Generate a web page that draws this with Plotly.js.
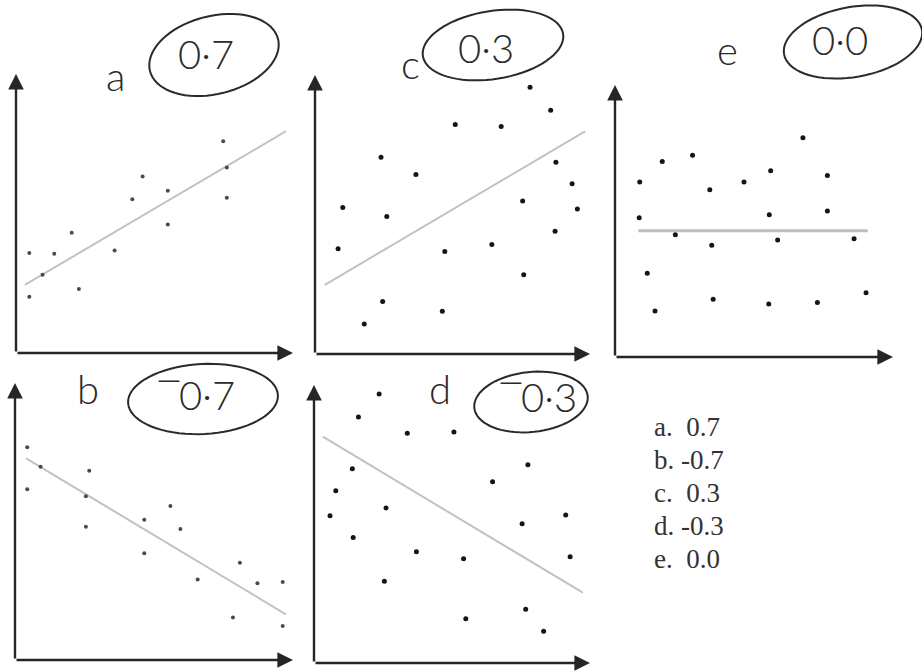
<!DOCTYPE html>
<html>
<head>
<meta charset="utf-8">
<script src="https://cdn.plot.ly/plotly-3.0.1.min.js"></script>
<style>
  html, body { margin: 0; padding: 0; background: #ffffff; }
  #chart { width: 922px; height: 671px; }
</style>
</head>
<body>
<div id="chart"></div>
<script>
// Correlation worksheet: five scatter plots with fitted lines and the r value for each.

const panelLetters = ['a', 'c', 'e', 'b', 'd'];
const panelR = [0.7, 0.3, 0.0, -0.7, -0.3];

// a : r = 0.7
const aX = [0.48, 0.48, 0.96, 1.38, 2.01, 2.27, 3.56, 4.20, 4.57, 5.48, 5.48, 7.48, 7.61, 7.61];
const aY = [3.66, 2.06, 2.86, 3.63, 4.40, 2.34, 3.75, 5.62, 6.45, 5.93, 4.70, 7.74, 6.78, 5.68];
const aLineX = [0.32, 9.75];
const aLineY = [2.49, 8.11];

// c : r = 0.3
const cX = [7.82, 8.57, 5.10, 6.77, 2.40, 8.76, 3.67, 9.35, 1.01, 7.55, 9.54, 2.61, 8.73, 0.84, 4.72, 6.43, 7.59, 2.46, 4.63, 1.79];
const cY = [9.75, 8.91, 8.39, 8.32, 7.19, 7.01, 6.56, 6.22, 5.36, 5.59, 5.30, 5.03, 4.49, 3.85, 3.75, 4.00, 2.90, 1.92, 1.56, 1.10];
const cLineX = [0.36, 9.82];
const cLineY = [2.53, 8.14];

// e : r = 0.0
const eX = [6.76, 1.70, 2.79, 0.89, 5.60, 3.41, 4.64, 7.64, 0.87, 5.55, 7.64, 2.17, 3.48, 5.85, 8.60, 1.16, 1.44, 3.53, 5.53, 7.28, 9.03];
const eY = [8.06, 7.19, 7.42, 6.43, 6.85, 6.15, 6.43, 6.67, 5.12, 5.23, 5.37, 4.49, 4.11, 4.30, 4.35, 3.08, 1.69, 2.12, 1.95, 2.00, 2.36];
const eLineX = [0.84, 9.09];
const eLineY = [4.64, 4.64];

// b : r = -0.7
const bX = [0.44, 0.44, 0.92, 2.67, 2.55, 2.55, 4.65, 4.65, 5.59, 5.95, 6.57, 8.09, 8.72, 9.63, 7.84, 9.63];
const bY = [7.68, 6.16, 6.98, 6.83, 5.91, 4.81, 5.06, 3.85, 5.56, 4.73, 2.91, 3.51, 2.77, 2.82, 1.53, 1.23];
const bLineX = [0.40, 9.74];
const bLineY = [7.28, 1.65];

// d : r = -0.3
const dX = [2.36, 1.61, 3.38, 5.07, 7.75, 1.39, 6.47, 0.79, 2.61, 0.58, 9.12, 7.54, 1.42, 3.71, 5.42, 9.28, 2.55, 7.67, 5.50, 8.32];
const dY = [9.68, 8.85, 8.26, 8.31, 7.13, 6.99, 6.52, 6.20, 5.58, 5.30, 5.32, 5.01, 4.51, 4.00, 3.75, 3.82, 2.94, 1.93, 1.59, 1.14];
const dLineX = [0.32, 9.74];
const dLineY = [8.14, 2.53];

// answer key on the right
const keyLetters = ['a', 'b', 'c', 'd', 'e'];
const keyValues = [0.7, -0.7, 0.3, -0.3, 0.0];

// ---------------------------------------------------------------
const W = 922, H = 671;
const px = v => v / W;
const py = v => 1 - v / H;

// pixel frame of each panel: origin (x0, y0), arrow tips (x1, yTop)
const frames = [
  { x0: 16,  x1: 293, y0: 353, yTop: 74,  yMax: 10.2, dot: 4, dotColor: '#4a4a4a' },
  { x0: 315, x1: 590, y0: 354, yTop: 75,  yMax: 10.2, dot: 5, dotColor: '#151515' },
  { x0: 615, x1: 893, y0: 357, yTop: 85,  yMax: 10,   dot: 5, dotColor: '#151515' },
  { x0: 15,  x1: 293, y0: 660, yTop: 383, yMax: 10,   dot: 4, dotColor: '#4a4a4a' },
  { x0: 314, x1: 590, y0: 663, yTop: 385, yMax: 10,   dot: 5, dotColor: '#151515' }
];
const series = [
  [aX, aY, aLineX, aLineY],
  [cX, cY, cLineX, cLineY],
  [eX, eY, eLineX, eLineY],
  [bX, bY, bLineX, bLineY],
  [dX, dY, dLineX, dLineY]
];

const traces = [];
const layout = {
  width: W, height: H,
  margin: { l: 0, r: 0, t: 0, b: 0 },
  paper_bgcolor: '#ffffff',
  plot_bgcolor: 'rgba(0,0,0,0)',
  showlegend: false,
  annotations: [],
  shapes: []
};

frames.forEach((f, i) => {
  const n = i === 0 ? '' : String(i + 1);
  const xa = 'x' + n, ya = 'y' + n;
  layout['xaxis' + n] = {
    domain: [px(f.x0), px(f.x1)], range: [0, 10], anchor: ya,
    visible: false, fixedrange: true
  };
  layout['yaxis' + n] = {
    domain: [py(f.y0), py(f.yTop)], range: [0, f.yMax], anchor: xa,
    visible: false, fixedrange: true
  };
  const [sx, sy, lx, ly] = series[i];
  // fitted line
  traces.push({
    x: lx, y: ly, xaxis: xa, yaxis: ya, type: 'scatter', mode: 'lines',
    line: { color: i === 2 ? '#bdbdbd' : '#c2c2c2', width: i === 2 ? 3 : 2 },
    hoverinfo: 'skip'
  });
  // points
  traces.push({
    x: sx, y: sy, xaxis: xa, yaxis: ya, type: 'scatter', mode: 'markers',
    marker: { size: f.dot, color: f.dotColor },
    hoverinfo: 'skip'
  });
  // axes drawn as arrows
  const arrow = { text: '', showarrow: true, arrowhead: 2, arrowsize: 1.3, arrowwidth: 2.4,
    arrowcolor: '#262626', xref: xa, yref: ya, axref: xa, ayref: ya, ax: 0, ay: 0, standoff: 0 };
  layout.annotations.push(Object.assign({}, arrow, { x: 10, y: 0 }));
  layout.annotations.push(Object.assign({}, arrow, { x: 0, y: f.yMax }));
});

// handwritten labels: letter, circled r value
const hand = { family: 'Lato, "Open Sans", sans-serif', color: '#2a2a2a', weight: 300 };
const letterPos = [[115, 76], [410, 64], [727, 50], [88, 389], [440, 389]];
const valuePos  = [[206, 54], [486, 48], [840, 40], [196, 395], [538, 397]];
const ovals = [
  { cx: 214, cy: 55, rx: 66, ry: 39, rot: -14 },
  { cx: 493, cy: 45, rx: 71, ry: 34, rot: -9 },
  { cx: 853, cy: 42, rx: 70, ry: 35, rot: -10 },
  { cx: 203, cy: 399, rx: 75, ry: 35, rot: -3 },
  { cx: 531, cy: 402, rx: 57, ry: 30, rot: -6 }
];

function ovalPath(o) {
  const pts = [];
  const t = o.rot * Math.PI / 180;
  for (let k = 0; k <= 72; k++) {
    const a = k / 72 * 2 * Math.PI;
    const ex = o.rx * Math.cos(a), ey = o.ry * Math.sin(a);
    const X = o.cx + ex * Math.cos(t) - ey * Math.sin(t);
    const Y = o.cy + ex * Math.sin(t) + ey * Math.cos(t);
    pts.push((k === 0 ? 'M' : 'L') + px(X).toFixed(5) + ',' + py(Y).toFixed(5));
  }
  return pts.join(' ') + ' Z';
}

panelLetters.forEach((L, i) => {
  layout.annotations.push({
    text: L, xref: 'paper', yref: 'paper', x: px(letterPos[i][0]), y: py(letterPos[i][1]),
    xanchor: 'center', yanchor: 'middle', showarrow: false,
    font: Object.assign({}, hand, { size: 40 })
  });
  const r = panelR[i];
  // raised bar for a negative value, as written by hand
  const sign = r < 0 ? '<span style="font-family:\'DejaVu Sans\'">\u203E</span>' : '';
  const txt = sign + Math.abs(r).toFixed(1).replace('.', '\u00B7');
  layout.annotations.push({
    text: txt, xref: 'paper', yref: 'paper', x: px(valuePos[i][0]), y: py(valuePos[i][1]),
    xanchor: 'center', yanchor: 'middle', showarrow: false,
    font: Object.assign({}, hand, { size: 40 })
  });
  layout.shapes.push({
    type: 'path', xref: 'paper', yref: 'paper', path: ovalPath(ovals[i]),
    line: { color: '#2a2a2a', width: 2 }, fillcolor: 'rgba(0,0,0,0)'
  });
});

// answer key
keyLetters.forEach((L, i) => {
  const v = keyValues[i];
  const txt = L + '. ' + (v < 0 ? '-' + Math.abs(v).toFixed(1) : '\u00A0' + v.toFixed(1));
  layout.annotations.push({
    text: txt, xref: 'paper', yref: 'paper', x: px(652), y: py(427 + i * 33),
    xanchor: 'left', yanchor: 'middle', showarrow: false,
    font: { family: '"Liberation Serif", "Times New Roman", serif', size: 27, color: '#333333' }
  });
});

Plotly.newPlot('chart', traces, layout, { staticPlot: true, displayModeBar: false });
</script>
</body>
</html>
